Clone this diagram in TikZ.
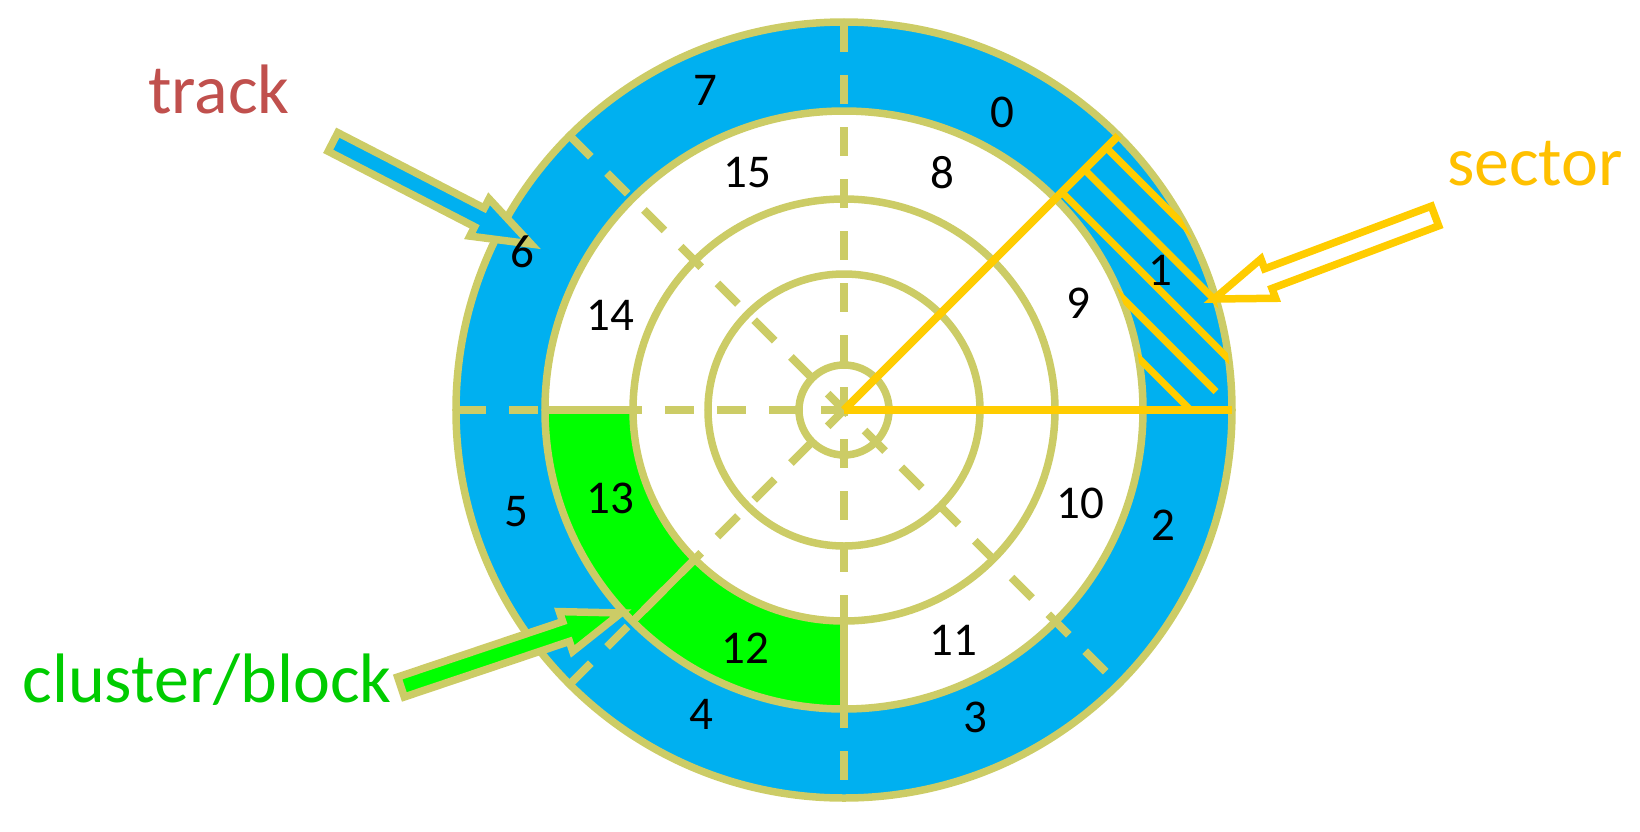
\documentclass[tikz,border=0pt]{standalone}
\usepackage{fontspec}
\setmainfont{Carlito}
\usetikzlibrary{calc}
\definecolor{diskblue}{RGB}{0,176,240}
\definecolor{rimkhaki}{RGB}{204,204,102}
\definecolor{secyellow}{RGB}{255,204,0}
\definecolor{sectxt}{RGB}{255,192,0}
\definecolor{clgreen}{RGB}{0,255,0}
\definecolor{cltxt}{RGB}{0,204,0}
\definecolor{trktxt}{RGB}{192,80,77}
\tikzset{
  rim/.style={draw=rimkhaki, line width=7.5pt},
  axisdash/.style={draw=rimkhaki, line width=8pt,
    dash pattern=on 29pt off 23pt, dash phase=51pt},
  secline/.style={draw=secyellow, line width=8pt},
  hatchline/.style={draw=secyellow, line width=7pt},
  secnum/.style={font=\fontsize{47}{47}\selectfont, text=black, inner sep=0pt},
  callout/.style={font=\fontsize{70}{70}\selectfont, inner sep=0pt, anchor=base},
  blockarrow/.style={line width=7.5pt, miter limit=10}
}
% block arrow from #2 (tail) to #3 (tip), style #1
\newcommand{\blockarrow}[3]{%
  \coordinate (#2-hb) at ($(#3)!58pt!(#2)$);
  \draw[blockarrow, #1] ($(#2)!10.5pt!90:(#3)$) -- ($(#2-hb)!10.5pt!90:(#3)$)
    -- ($(#2-hb)!21pt!90:(#3)$) -- (#3) -- ($(#2-hb)!21pt!-90:(#3)$)
    -- ($(#2-hb)!10.5pt!-90:(#3)$) -- ($(#2)!10.5pt!-90:(#3)$) -- cycle;
}

\begin{document}
\begin{tikzpicture}[x=1pt, y=1pt]
  \useasboundingbox (-844,-421) rectangle (796,410);

  % Disk: blue rim, white inside
  \fill[diskblue] (0,0) circle (388);
  \fill[white] (0,0) circle (299);

  % Cluster = sectors 12 and 13
  \fill[clgreen] (180:211) -- (180:299) arc (180:270:299) -- (270:211) arc (270:180:211) -- cycle;

  % Track circles
  \foreach \r in {388,299,211,136,45}
    \draw[rim] (0,0) circle (\r);
  \draw[rim] (180:211) -- (180:299);
  \draw[rim] (225:211) -- (225:299);
  \draw[rim] (270:211) -- (270:299);

  % Sector dividers
  \draw[axisdash] (90:388) -- (270:388);
  \draw[axisdash] (135:388) -- (315:388);
  \draw[axisdash] (180:388) -- (0,0);
  \draw[axisdash] (225:388) -- (0,0);

  % Hatched sector 1
  \begin{scope}
    \clip (0:299) -- (0:388) arc (0:45:388) -- (45:299) arc (45:0:299) -- cycle;
    \foreach \d in {245,276,308,340,371}
      \draw[hatchline, rotate=45] (\d,-250) -- (\d,250);
  \end{scope}
  \draw[secline] (0,0) -- (45:388);
  \draw[secline] (0,0) -- (0:388);

  % Callouts
  \node[callout, text=trktxt] (track) at (-625,297) {track};
  \node[callout, text=sectxt] (sector) at (691,225) {sector};
  \node[callout, text=cltxt] (cluster) at (-637,-292) {cluster/block};

  \coordinate (trackTail) at (-511,268);
  \coordinate (trackTip) at (-313,166);
  \coordinate (sectorTail) at (591,194);
  \coordinate (sectorTip) at (370,111);
  \coordinate (clusterTail) at (-443,-277);
  \coordinate (clusterTip) at (-223,-203);

  \blockarrow{draw=rimkhaki, fill=diskblue}{trackTail}{trackTip}
  \blockarrow{draw=secyellow, fill=white}{sectorTail}{sectorTip}
  \blockarrow{draw=rimkhaki, fill=clgreen}{clusterTail}{clusterTip}

  % Sector numbers, outer track
  \node[secnum] (n0) at (158,298) {0};
  \node[secnum] (n1) at (316,140) {1};
  \node[secnum] (n2) at (319,-115) {2};
  \node[secnum] (n3) at (131,-307) {3};
  \node[secnum] (n4) at (-143,-304) {4};
  \node[secnum] (n5) at (-328,-102) {5};
  \node[secnum] (n6) at (-322,158) {6};
  \node[secnum] (n7) at (-139,320) {7};
  % Sector numbers, inner track
  \node[secnum] (n8) at (98,237) {8};
  \node[secnum] (n9) at (234,107) {9};
  \node[secnum] (n10) at (236,-93) {10};
  \node[secnum] (n11) at (109,-230) {11};
  \node[secnum] (n12) at (-99,-238) {12};
  \node[secnum] (n13) at (-234,-88) {13};
  \node[secnum] (n14) at (-234,95) {14};
  \node[secnum] (n15) at (-97,237) {15};
\end{tikzpicture}
\end{document}
